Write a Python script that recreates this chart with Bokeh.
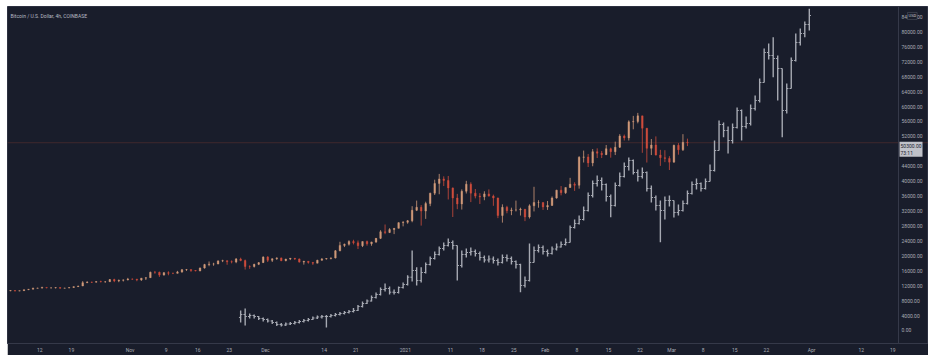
import pandas as pd
from bokeh.plotting import figure
from bokeh.models import ColumnDataSource, Range1d, FixedTicker, NumeralTickFormatter, Span, Label
from bokeh.embed import file_html
from bokeh.resources import INLINE

title_text = "Bitcoin / U.S. Dollar, 4h, COINBASE"

# ---- BTC daily candles (orange series), from 2020-10-05 ----
btc_start = "2020-10-05"
btc_first_open = 10600
btc_close = [
    10700, 10550, 10670, 10920, 11060, 11300, 11380,
    11550, 11430, 11430, 11510, 11330, 11370, 11510,
    11750, 11920, 12810, 12990, 12930, 13130, 13040,
    13070, 13650, 13280, 13460, 13560, 13800, 13760,
    13550, 14030, 14150, 15600, 15580, 14840, 15480,
    15330, 15310, 15700, 16290, 16330, 16080, 15960,
    16730, 17650, 17800, 17820, 18650, 18710, 18420,
    18360, 19160, 18720, 17150, 17140, 17720, 18180,
    19700, 18790, 19220, 19450, 18700, 19150, 19360,
    19170, 18320, 18550, 18250, 18040, 18810, 19160,
    19270, 19440, 21350, 22800, 23110, 23830, 23480,
    22720, 23820, 23240, 23720, 24690, 26440, 26270,
    27040, 27370, 28890, 28990, 29400, 32200, 33000,
    32000, 34000, 36800, 39400, 40600, 40200, 38200,
    35500, 33900, 37300, 39200, 36800, 36000, 35800,
    36600, 36000, 35500, 30800, 33000, 32100, 32300,
    32300, 32500, 30400, 33400, 34300, 34300, 33100,
    33500, 35500, 37600, 36900, 38300, 39200, 38900,
    46400, 46500, 44900, 47900, 47500, 47100, 48700,
    47900, 49100, 52100, 51600, 55900, 56000, 57500,
    54200, 48800, 49700, 47000, 46300, 46100, 45100,
    49600, 48400, 50400, 50300,
]
btc_high = [
    10800, 10760, 10690, 10960, 11110, 11490, 11440,
    11720, 11560, 11550, 11630, 11540, 11420, 11530,
    11820, 11980, 13220, 13170, 13030, 13170, 13350,
    13250, 13800, 13860, 13640, 13680, 14100, 13900,
    13820, 14070, 14250, 15770, 15960, 15770, 15660,
    15850, 15480, 15970, 16480, 16480, 16330, 16140,
    16880, 17850, 18490, 18140, 18800, 18950, 18750,
    18770, 19420, 19500, 19000, 17460, 17880, 18350,
    19860, 19920, 19300, 19590, 19520, 19180, 19420,
    19420, 19290, 18640, 18570, 18290, 18950, 19410,
    19350, 19560, 21560, 23770, 23280, 24170, 24300,
    24100, 23850, 24100, 23780, 24770, 26870, 28400,
    27420, 27390, 28990, 29300, 29600, 33300, 34800,
    33600, 34500, 36900, 40400, 41950, 41300, 41400,
    38300, 36600, 37800, 40100, 39700, 37900, 36800,
    37300, 37800, 36400, 35600, 33800, 33400, 32900,
    34800, 32900, 32500, 33800, 38500, 34900, 34300,
    34700, 35900, 37700, 38700, 38300, 40900, 39700,
    46700, 48200, 47300, 48600, 48800, 48100, 49700,
    49000, 50600, 52600, 52500, 56300, 57500, 58300,
    57500, 54200, 51300, 52000, 48400, 48300, 46700,
    49800, 50200, 52600, 51400,
]
btc_low = [
    10530, 10520, 10530, 10580, 10830, 11050, 11280,
    11220, 11300, 11270, 11260, 11220, 11320, 11350,
    11420, 11680, 11900, 12700, 12730, 12900, 12900,
    12800, 13050, 12950, 12940, 13130, 13430, 13620,
    13200, 13290, 13520, 14100, 15200, 14350, 14720,
    14800, 15100, 15280, 15440, 15960, 15710, 15860,
    15880, 16570, 17220, 17350, 17760, 18320, 17610,
    17990, 18030, 18570, 16330, 16530, 16870, 17520,
    18180, 18340, 18350, 18930, 18570, 18540, 18860,
    18900, 18200, 17650, 17910, 17570, 18020, 18710,
    19000, 19050, 19300, 21230, 22350, 22750, 23060,
    21820, 22350, 22720, 22700, 23430, 24500, 25800,
    26100, 25820, 27340, 27900, 28600, 29000, 32000,
    28100, 29900, 33300, 36300, 36500, 38700, 35100,
    30400, 32500, 32400, 36700, 34400, 35400, 33900,
    34900, 35900, 33400, 30100, 28900, 31400, 30900,
    31900, 30800, 29300, 30000, 31900, 32900, 32300,
    32300, 33400, 35300, 36200, 36600, 38200, 37400,
    38000, 45000, 43800, 44000, 46200, 46200, 47000,
    46300, 47000, 48900, 50900, 50900, 53900, 55500,
    47600, 45000, 47000, 46900, 44100, 45100, 43000,
    45000, 47100, 48100, 49400,
]

# ---- projected bars pattern (gray series), from 2020-11-25 ----
proj_start = "2020-11-25"
proj_first_open = 3500
proj_close = [
    4290, 3750, 4020, 3750, 3210, 2950, 2550,
    2140, 1610, 1470, 1740, 1880, 2140, 2410,
    2680, 2950, 3350, 3620, 3750, 3750, 4020,
    4290, 4550, 4820, 5090, 5360, 6430, 7230,
    7900, 8840, 9640, 10980, 11250, 10260, 10180,
    11520, 12320, 14280, 16070, 13400, 15540, 17680,
    19290, 20360, 21970, 22770, 23580, 22770, 17410,
    20360, 20900, 21160, 20630, 19560, 18890, 19150,
    18750, 18220, 19560, 19290, 18490, 17680, 12060,
    13400, 18220, 21430, 22240, 21160, 20630, 21830,
    22370, 23040, 23580, 27590, 28660, 29740, 32150,
    36170, 39380, 40190, 39110, 35900, 33490, 38850,
    41260, 43940, 45540, 42330, 41260, 42330, 38040,
    35630, 33490, 32150, 34830, 34830, 31610, 32150,
    34020, 36700, 39110, 39380, 38040, 39920, 42860,
    48220, 55190, 53580, 50900, 54380, 58940, 54650,
    55460, 59470, 61620, 66440, 74480, 73670, 72870,
    70190, 58940, 64830, 72330, 77160, 79570, 81980,
    84390,
]
proj_high = [
    5360, 5900, 4560, 4290, 3880, 3480, 3210,
    2810, 2410, 2010, 2140, 2280, 2550, 2810,
    3080, 3350, 3750, 4020, 4150, 4150, 4420,
    4690, 4960, 5230, 5490, 6030, 6830, 7770,
    8310, 9380, 10180, 11520, 12590, 11790, 10980,
    11790, 12860, 14790, 21430, 16960, 16960, 18220,
    19820, 21160, 22500, 23580, 24650, 24110, 22770,
    21430, 21970, 22240, 21700, 21160, 20090, 20090,
    19820, 19290, 20360, 20360, 19820, 18750, 17900,
    14470, 23300, 22500, 23040, 22770, 21700, 22500,
    23310, 23850, 24650, 28130, 29730, 30800, 33220,
    36970, 40190, 41530, 40990, 39380, 36430, 39650,
    42330, 45010, 46340, 45810, 43130, 43670, 42600,
    38850, 36170, 34830, 35900, 36170, 34830, 33750,
    34830, 37500, 39920, 40720, 39650, 40720, 44470,
    50900, 56260, 55730, 54650, 55460, 59740, 59210,
    57330, 60540, 62960, 67510, 75550, 76890, 78580,
    73670, 70190, 66170, 73130, 79570, 80910, 82780,
    86180,
]
proj_low = [
    2140, 1340, 3210, 3210, 2810, 2410, 2140,
    1740, 1200, 1070, 1200, 1470, 1610, 1880,
    2140, 2410, 2810, 3080, 3210, 800, 3480,
    3750, 4020, 4290, 4550, 4820, 5230, 6160,
    7100, 7770, 8570, 9380, 10450, 9640, 9640,
    9910, 11250, 12060, 13130, 12060, 12860, 15270,
    17410, 19020, 20090, 21430, 22500, 21700, 13400,
    16870, 19550, 20090, 19820, 18750, 18220, 18220,
    17950, 17410, 17950, 18490, 17680, 16610, 10260,
    11520, 13130, 18220, 20900, 20360, 19820, 20360,
    21430, 22240, 22770, 23580, 27320, 28390, 29470,
    31880, 35630, 38580, 37500, 34560, 30350, 33220,
    38580, 40990, 42870, 41800, 39910, 40720, 37230,
    34290, 32150, 23650, 29740, 33220, 30270, 30800,
    31880, 33750, 36430, 37770, 37230, 37770, 39920,
    42600, 48220, 51780, 47420, 50100, 54110, 50900,
    54110, 54920, 58940, 61080, 66440, 72600, 67860,
    61620, 51780, 58140, 64830, 72060, 76350, 78580,
    80370,
]

y_ticks = [0, 4000, 8000, 12000, 16000, 20000, 24000, 28000, 32000, 36000, 40000,
           44000, 52000, 56000, 60000, 64000, 68000, 72000, 76000, 80000, 84000]
x_tick_dates = ["2020-10-12", "2020-10-19", "2020-11-01", "2020-11-09", "2020-11-16",
                "2020-11-23", "2020-12-01", "2020-12-14", "2020-12-21", "2021-01-01",
                "2021-01-11", "2021-01-18", "2021-01-25", "2021-02-01", "2021-02-08",
                "2021-02-15", "2021-02-22", "2021-03-01", "2021-03-08", "2021-03-15",
                "2021-03-22", "2021-04-01", "2021-04-12", "2021-04-19"]
x_tick_labels = ["12", "19", "Nov", "9", "16", "23", "Dec", "14", "21", "2021",
                 "11", "18", "25", "Feb", "8", "15", "22", "Mar", "8", "15",
                 "22", "Apr", "12", "19"]
countdown_text = "73:11"
currency_text = "USD"

# ---- styling ----
BG = "#191d2b"
UP = "#d19a7a"
DOWN = "#cf4d3c"
GRAY = "#a6a9b2"
TXT = "#a9acb5"
SEP = "#353949"
FONT = "Roboto"
DAY_MS = 86400000


def build(start, first_open, close):
    t = pd.date_range(start, periods=len(close), freq="D") + pd.Timedelta(hours=12)
    opn = [first_open] + list(close[:-1])
    return t, opn


bt, bopen = build(btc_start, btc_first_open, btc_close)
btc_src = ColumnDataSource(dict(
    t=bt, open=bopen, close=btc_close, high=btc_high, low=btc_low,
    color=[UP if c >= o else DOWN for o, c in zip(bopen, btc_close)],
))

pt, popen = build(proj_start, proj_first_open, proj_close)
proj_src = ColumnDataSource(dict(
    t=pt, tl=pt - pd.Timedelta(hours=9), tr=pt + pd.Timedelta(hours=9),
    open=popen, close=proj_close, high=proj_high, low=proj_low,
))

ref = pd.Timestamp("2020-10-12")
x_start = ref - pd.Timedelta(days=7.16)
x_end = ref + pd.Timedelta(days=196.91)
scale_x = ref + pd.Timedelta(days=190.27)      # where the price scale begins
scale_ms = scale_x.value // 10**6
y_lo, y_hi = -3483, 86800

p = figure(width=921, height=349, x_axis_type="datetime", y_axis_location="right",
           x_range=Range1d(x_start, x_end), y_range=Range1d(y_lo, y_hi),
           output_backend="svg", toolbar_location=None,
           min_border_left=0, min_border_top=0, min_border_right=0, min_border_bottom=12)
p.margin = (6, 0, 0, 7)
p.background_fill_color = BG
p.border_fill_color = BG
p.outline_line_color = "#2c3040"
p.xgrid.grid_line_color = None
p.ygrid.grid_line_color = None

# last price line
last_close = btc_close[-1]
p.add_layout(Span(location=last_close, dimension="width", line_color=DOWN,
                  line_alpha=0.22, line_width=1, level="underlay"))

# gray projected OHLC bars
p.segment(x0="t", y0="low", x1="t", y1="high", source=proj_src, line_color=GRAY, line_width=1.4)
p.segment(x0="tl", y0="open", x1="t", y1="open", source=proj_src, line_color=GRAY, line_width=1)
p.segment(x0="t", y0="close", x1="tr", y1="close", source=proj_src, line_color=GRAY, line_width=1)

# BTC candles
p.segment(x0="t", y0="low", x1="t", y1="high", source=btc_src, line_color="color", line_width=0.8)
p.vbar(x="t", width=0.36 * DAY_MS, top="close", bottom="open", source=btc_src,
       fill_color="color", line_color="color", line_width=0.4)

# price scale (kept at a fixed place so the scale area is part of the chart)
yax = p.yaxis[0]
yax.fixed_location = scale_ms
yax.ticker = FixedTicker(ticks=y_ticks)
yax.formatter = NumeralTickFormatter(format="0.00")
yax.major_label_text_font_size = "5px"
yax.major_label_text_color = TXT
yax.major_label_text_font = FONT
yax.major_label_standoff = 3
yax.major_tick_line_color = None
yax.minor_tick_line_color = None
yax.major_tick_out = 0
yax.major_tick_in = 0
yax.axis_line_color = SEP

tick_ms = [int(pd.Timestamp(d).value // 10**6) for d in x_tick_dates]
xax = p.xaxis[0]
xax.ticker = FixedTicker(ticks=tick_ms)
xax.major_label_overrides = {k: v for k, v in zip(tick_ms, x_tick_labels)}
xax.major_label_text_font_size = "5px"
xax.major_label_text_color = TXT
xax.major_label_text_font = FONT
xax.major_label_standoff = 3
xax.major_tick_line_color = None
xax.minor_tick_line_color = None
xax.major_tick_out = 0
xax.axis_line_color = SEP

# title
p.add_layout(Label(x=x_start, y=y_hi, x_offset=3, y_offset=-9, text=title_text,
                   text_font_size="5px", text_color="#b8bbc4", text_font=FONT,
                   text_baseline="middle"))

# last price tag on the price scale
p.add_layout(Label(x=scale_x, y=last_close, x_offset=1, y_offset=1,
                   text=f"{last_close:.2f}\n{countdown_text}",
                   text_font_size="5px", text_color="#20232e", text_font=FONT,
                   text_baseline="top", text_align="left", padding=1,
                   background_fill_color="#c0c2c9", text_line_height=1.15))

# currency tag
p.add_layout(Label(x=scale_x, y=84000, x_offset=9, y_offset=1, text=currency_text,
                   text_font_size="4px", text_color="#c8cad0", text_font=FONT,
                   text_baseline="middle", background_fill_color=BG, padding=1,
                   border_line_color="#5a5e6a", border_line_width=0.5))

open("out.html", "w").write(file_html(p, INLINE))
